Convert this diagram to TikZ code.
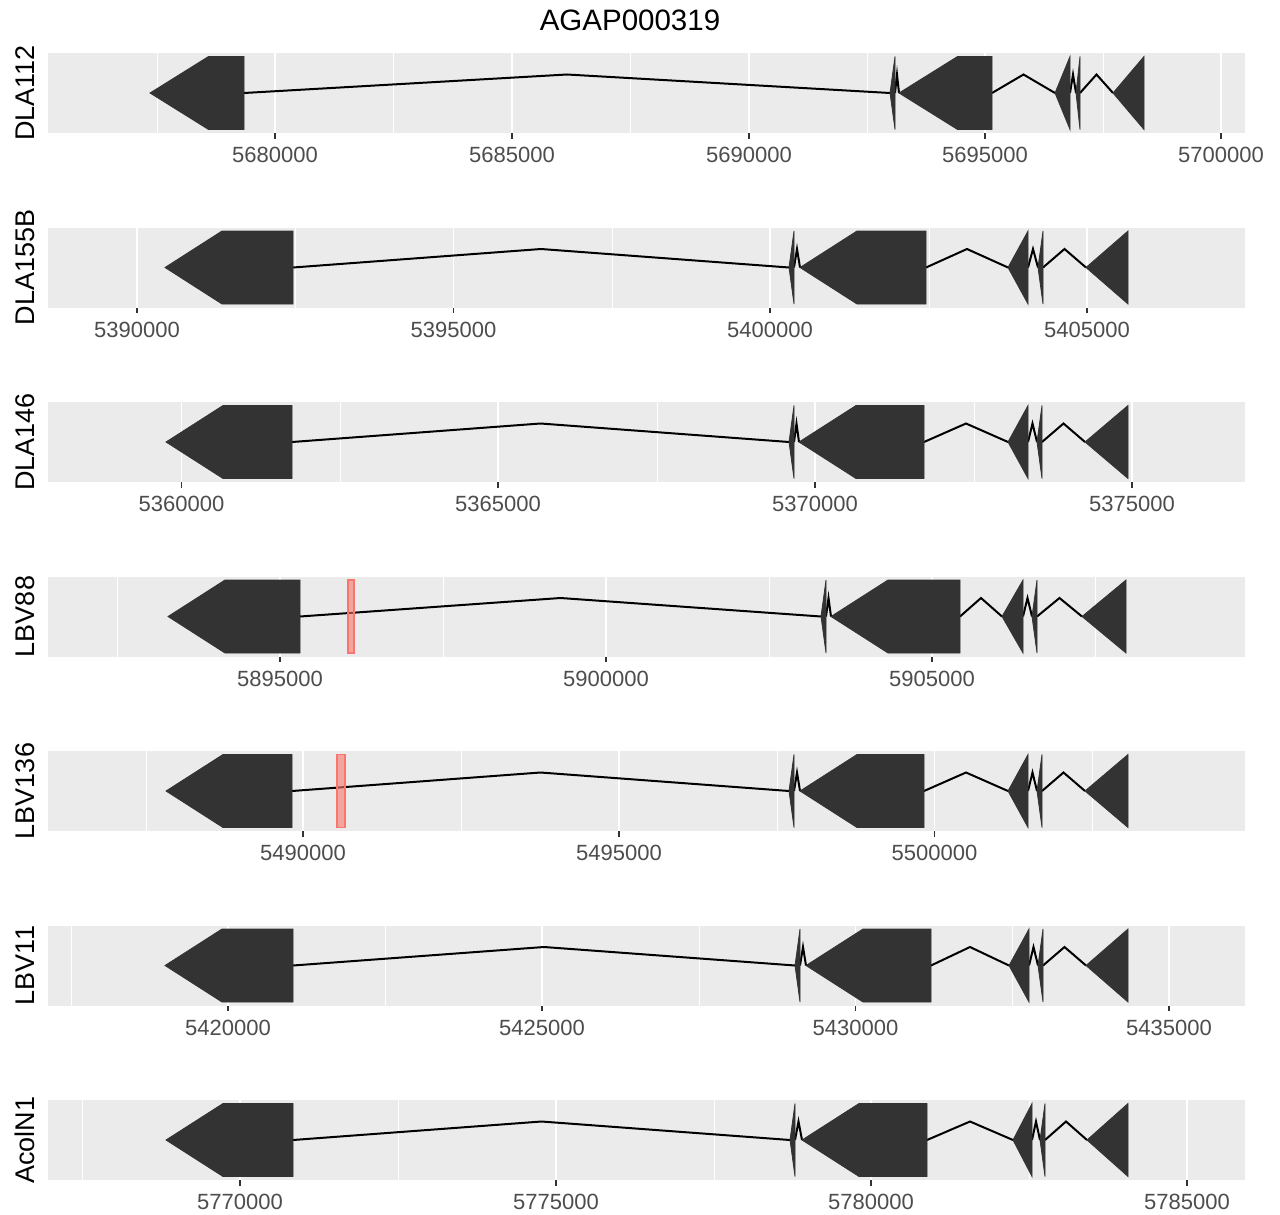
\documentclass[tikz,border=0pt]{standalone}
\usepackage{fontspec}
\setmainfont{Liberation Sans}
\definecolor{panelbg}{HTML}{EBEBEB}
\definecolor{exonfill}{HTML}{333333}
\definecolor{ticktext}{HTML}{4D4D4D}
\definecolor{tickcol}{HTML}{333333}
\definecolor{markcol}{HTML}{F8766D}

\tikzset{
  minorgrid/.style={draw=white, line width=0.8pt},
  majorgrid/.style={draw=white, line width=1.6pt},
  tickmark/.style={draw=tickcol, line width=1.3pt},
  ticklabel/.style={inner sep=0pt, text=ticktext, font=\fontsize{22}{26}\selectfont},
  ytitle/.style={inner sep=0pt, rotate=90, text=black, font=\fontsize{27}{32}\selectfont},
  exonshape/.style={fill=exonfill, draw=exonfill, line width=0.8pt, line join=miter},
  intronline/.style={draw=black, line width=2pt, line join=miter},
  variantmark/.style={fill=markcol, fill opacity=0.6, draw=markcol, line width=1.3pt},
}

% half height of an exon, rise of an intron peak
\newcommand{\hh}{36.5}
\newcommand{\rise}{18.5}

% panel background, grid, x axis and y title; #1 top edge
\newcommand{\panelframe}[4]{%
  \fill[panelbg] (48,#1) rectangle (1245,#1+80);
  \foreach \mx in {#2} \draw[minorgrid] (\mx,#1) -- (\mx,#1+80);
  \foreach \Mx/\lab in {#3} {
    \draw[majorgrid] (\Mx,#1) -- (\Mx,#1+80);
    \draw[tickmark] (\Mx,#1+80) -- (\Mx,#1+85.5);
    \node[ticklabel] (lab\lab) at (\Mx,#1+102) {\lab};
  }
  \node[ytitle] (ttl#4) at (25,#1+40) {#4};
}
% exon with arrow head pointing left: tip x, right end x
\newcommand{\bigexon}[2]{%
  \path[exonshape] (#1,\cy) -- (#1+\ah,\cy-\hh) -- (#2,\cy-\hh)
    -- (#2,\cy+\hh) -- (#1+\ah,\cy+\hh) -- cycle;}
% exon shorter than the arrow head: a single triangle
\newcommand{\smallexon}[2]{%
  \path[exonshape] (#1,\cy) -- (#2,\cy-\hh) -- (#2,\cy+\hh) -- cycle;}
% intron as a bent line between two exon ends
\newcommand{\intron}[2]{%
  \draw[intronline] (#1,\cy) -- ({(#1+#2)/2},\cy-\rise) -- (#2,\cy);}
% marked position
\newcommand{\variant}[2]{%
  \path[variantmark] (#1,\cy-\hh) rectangle (#2,\cy+\hh);}

\begin{document}
\begin{tikzpicture}[x=1pt,y=-1pt]
\useasboundingbox (0,0) rectangle (1280,1215);
\fill[white] (0,0) rectangle (1280,1215);

\node[inner sep=0pt, text=black, font=\fontsize{29.5}{34}\selectfont] (plottitle) at (630,20) {AGAP000319};

% ---- DLA112
\panelframe{53}{157,393,630,867,1103}{275/5680000,512/5685000,749/5690000,985/5695000,1221/5700000}{DLA112}
\def\cy{93}\def\ah{58.5}
\intron{244}{890}\intron{895}{899}\intron{992}{1055}\intron{1070}{1076}\intron{1080}{1113}
\bigexon{150}{244}\smallexon{890}{895}\bigexon{899}{992}
\smallexon{1055}{1070}\smallexon{1076}{1080}\smallexon{1113}{1144}

% ---- DLA155B
\panelframe{227.5}{295,612,929}{137/5390000,453.5/5395000,770/5400000,1087/5405000}{DLA155B}
\def\cy{267.5}\def\ah{57}
\intron{293}{789}\intron{794}{800}\intron{926}{1008}\intron{1028}{1038}\intron{1043}{1086}
\bigexon{165}{293}\smallexon{789}{794}\bigexon{800}{926}
\smallexon{1008}{1028}\smallexon{1038}{1043}\smallexon{1086}{1128}

% ---- DLA146
\panelframe{402}{340,657,974}{181.5/5360000,498/5365000,815/5370000,1132/5375000}{DLA146}
\def\cy{442}\def\ah{57}
\intron{292}{789}\intron{794}{799}\intron{924}{1008}\intron{1028}{1037}\intron{1042}{1085}
\bigexon{166}{292}\smallexon{789}{794}\bigexon{799}{924}
\smallexon{1008}{1028}\smallexon{1037}{1042}\smallexon{1085}{1128}

% ---- LBV88
\panelframe{576.5}{117,443,769,1095}{280/5895000,606/5900000,932/5905000}{LBV88}
\def\cy{616.5}\def\ah{57}
\intron{300}{821}\intron{826}{831}\intron{960}{1002}\intron{1023}{1032}\intron{1037}{1082}
\bigexon{168}{300}\smallexon{821}{826}\bigexon{831}{960}
\smallexon{1002}{1023}\smallexon{1032}{1037}\smallexon{1082}{1126}
\variant{348}{354}

% ---- LBV136
\panelframe{751}{146,461,777,1092}{303/5490000,619/5495000,934.5/5500000}{LBV136}
\def\cy{791}\def\ah{57}
\intron{292}{789}\intron{794}{800}\intron{924}{1008}\intron{1028}{1037}\intron{1042}{1085}
\bigexon{166}{292}\smallexon{789}{794}\bigexon{800}{924}
\smallexon{1008}{1028}\smallexon{1037}{1042}\smallexon{1085}{1128}
\variant{337}{345}

% ---- LBV11
\panelframe{925.5}{71,385,699,1012}{228/5420000,542/5425000,855.5/5430000,1169/5435000}{LBV11}
\def\cy{965.5}\def\ah{57}
\intron{293}{795}\intron{800}{806}\intron{931}{1009}\intron{1029}{1038}\intron{1043}{1086}
\bigexon{165}{293}\smallexon{795}{800}\bigexon{806}{931}
\smallexon{1009}{1029}\smallexon{1038}{1043}\smallexon{1086}{1128}

% ---- AcolN1
\panelframe{1100}{82,398,714,1029}{240/5770000,556/5775000,871/5780000,1187/5785000}{AcolN1}
\def\cy{1140}\def\ah{57}
\intron{293}{790}\intron{795}{802}\intron{927}{1013}\intron{1032}{1040}\intron{1045}{1087}
\bigexon{166}{293}\smallexon{790}{795}\bigexon{802}{927}
\smallexon{1013}{1032}\smallexon{1040}{1045}\smallexon{1087}{1128}
\end{tikzpicture}
\end{document}
